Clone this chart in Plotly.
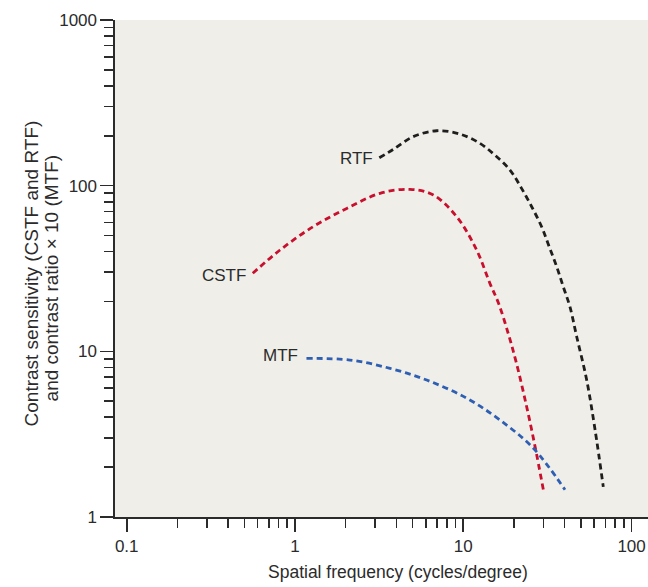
import numpy as np
import plotly.graph_objects as go

# ---- data ----
rtf_x = [3.17, 3.84, 5.02, 6.95, 9.55, 12.56, 15.4, 18.95, 22.2, 25.5, 29.2, 32.4, 35.9, 39.3, 43.0, 47.2, 54.1, 60.7, 67.9]
rtf_y = [147.3, 165.6, 197.3, 214.5, 204.9, 180, 153, 124.2, 96.3, 74.6, 56.5, 42.8, 32.4, 24.5, 18.6, 12.25, 6.71, 3.35, 1.52]

cstf_x = [0.561, 0.815, 1.28, 2.03, 3.20, 4.82, 6.64, 9.14, 12.0, 14.4, 16.2, 18.5, 20.7, 23.8, 26.7, 29.9]
cstf_y = [29.6, 40.9, 56.5, 72.9, 89.9, 95.0, 87.8, 64.9, 40.9, 25.7, 19.5, 12.8, 8.47, 4.63, 2.66, 1.46]

mtf_x = [1.17, 2.12, 3.67, 6.06, 10.5, 16.5, 26.1, 40.2]
mtf_y = [9.07, 8.86, 7.89, 6.71, 5.21, 3.85, 2.60, 1.46]

series_names = ["RTF", "CSTF", "MTF"]

x_tick_vals = [0.1, 1, 10, 100]
x_tick_text = ["0.1", "1", "10", "100"]
y_tick_vals = [1, 10, 100, 1000]
y_tick_text = ["1", "10", "100", "1000"]

x_title = "Spatial frequency (cycles/degree)"
y_title_lines = ["Contrast sensitivity (CSTF and RTF)", "and contrast ratio × 10 (MTF)"]

# ---- styling ----
FONT = "Liberation Sans, Arial, Helvetica, sans-serif"
TXT = "#2b2b2b"
AX = "#2b2b2b"
colors = {"RTF": "#1e1e1e", "CSTF": "#c8102e", "MTF": "#2f5fb3"}
label_shift = {"RTF": (-4, -1), "CSTF": (-5, -2), "MTF": (-6, 3)}


def minor_vals(lo_exp, hi_exp):
    vals = []
    for e in range(lo_exp, hi_exp + 1):
        for m in range(2, 10):
            vals.append(m * 10 ** e)
    return vals


series = [("RTF", rtf_x, rtf_y), ("CSTF", cstf_x, cstf_y), ("MTF", mtf_x, mtf_y)]

fig = go.Figure()
for name, xs, ys in series:
    fig.add_trace(go.Scatter(
        x=xs, y=ys, mode="lines", name=name,
        line=dict(color=colors[name], width=2.8, dash="6px,4px", shape="spline", smoothing=1.0),
        showlegend=False, hoverinfo="skip"))

# curve labels
for name, xs, ys in series:
    dx, dy = label_shift[name]
    fig.add_annotation(x=np.log10(xs[0]), y=np.log10(ys[0]), text=name, showarrow=False,
                       xanchor="right", yanchor="middle", xshift=dx, yshift=dy,
                       font=dict(family=FONT, size=17, color=TXT))

fig.add_annotation(xref="paper", yref="paper", x=0.531, y=-0.1107, text=x_title,
                   showarrow=False, xanchor="center", yanchor="middle",
                   font=dict(family=FONT, size=17.5, color=TXT))
for i, (line, px) in enumerate(zip(y_title_lines, [31, 51])):
    fig.add_annotation(xref="paper", yref="paper", x=(px - 115) / 533, y=0.49 - 0.01 * i,
                       text=line, showarrow=False, xanchor="center", yanchor="middle",
                       textangle=-90, font=dict(family=FONT, size=19, color=TXT))

axis_common = dict(
    type="log", showgrid=False, zeroline=False, showline=True, linecolor=AX, linewidth=1.6,
    ticks="outside", ticklen=13, tickwidth=1.6, tickcolor=AX,
    tickfont=dict(family=FONT, size=17, color=TXT),
)
fig.update_xaxes(range=[-1.0695, 2.0975], tickvals=x_tick_vals, ticktext=x_tick_text,
                 minor=dict(tickvals=minor_vals(-1, 1), ticks="outside", ticklen=9,
                            tickwidth=1.6, tickcolor=AX, showgrid=False),
                 **axis_common)
fig.update_yaxes(range=[0, 3], tickvals=y_tick_vals, ticktext=y_tick_text,
                 minor=dict(tickvals=minor_vals(0, 2), ticks="outside", ticklen=9,
                            tickwidth=1.6, tickcolor=AX, showgrid=False),
                 **axis_common)

fig.update_layout(
    width=648, height=587,
    margin=dict(l=115, r=0, t=20, b=70),
    paper_bgcolor="white", plot_bgcolor="#efeee8",
)

# remove the browser's default body margin so the figure fills the window exactly
fig.write_html("out.html", config={"displayModeBar": False, "staticPlot": True},
               post_script="document.body.style.margin='0';document.body.style.overflow='hidden';")
